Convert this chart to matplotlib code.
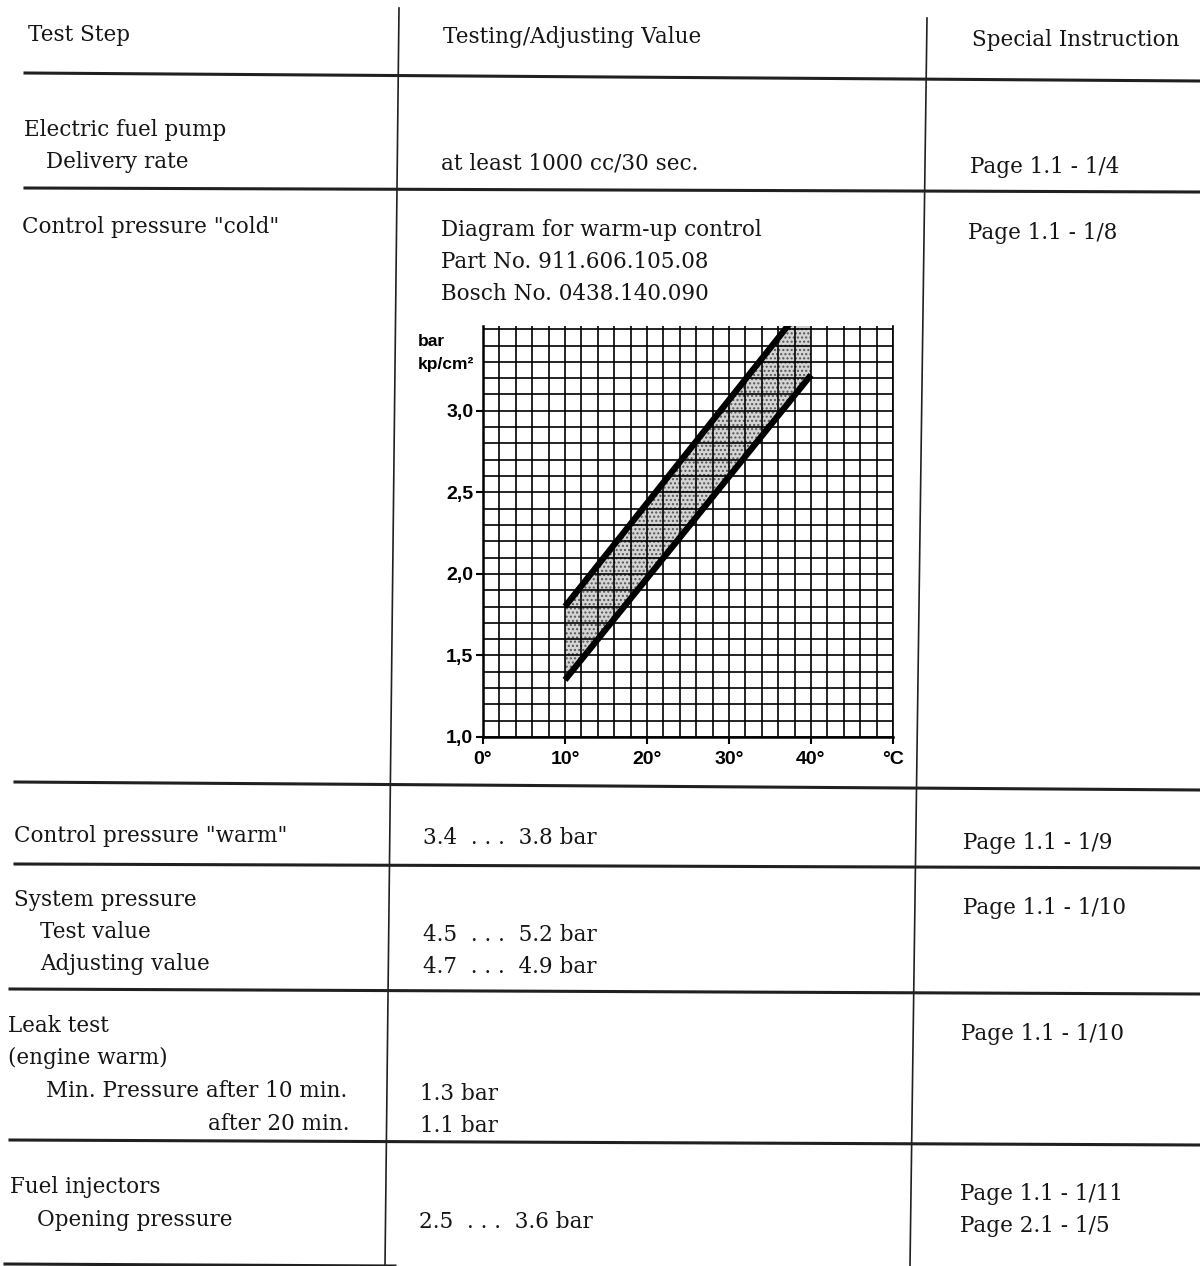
import matplotlib.pyplot as plt
import numpy as np
from matplotlib.lines import Line2D

# --- Table content
header = ["Test Step", "Testing/Adjusting Value", "Special Instruction"]

step_text = ["Electric fuel pump", "Delivery rate",
             'Control pressure "cold"',
             'Control pressure "warm"',
             "System pressure", "Test value", "Adjusting value",
             "Leak test", "(engine warm)", "Min. Pressure after 10 min.", "after 20 min.",
             "Fuel injectors", "Opening pressure"]
value_text = ["at least 1000 cc/30 sec.",
              "Diagram for warm-up control", "Part No. 911.606.105.08", "Bosch No. 0438.140.090",
              "3.4  . . .  3.8 bar",
              "4.5  . . .  5.2 bar", "4.7  . . .  4.9 bar",
              "1.3 bar", "1.1 bar",
              "2.5  . . .  3.6 bar"]
instr_text = ["Page 1.1 - 1/4", "Page 1.1 - 1/8", "Page 1.1 - 1/9", "Page 1.1 - 1/10",
              "Page 1.1 - 1/10", "Page 1.1 - 1/11", "Page 2.1 - 1/5"]

# --- Warm-up control diagram (temperature in degC, pressure in bar)
band_temp = [10, 40]
band_upper = [1.80, 3.70]
band_lower = [1.35, 3.22]
x_ticks = [0, 10, 20, 30, 40, 50]
x_labels = ["0°", "10°", "20°", "30°", "40°", "°C"]
y_ticks = [1.0, 1.5, 2.0, 2.5, 3.0]
y_labels = ["1,0", "1,5", "2,0", "2,5", "3,0"]

# --- Layout (pixels on the 1200x1266 page)
step_pos = [(24, 130), (46, 162), (22, 227), (14, 836), (14, 900), (40, 932), (40, 964),
            (8, 1026), (8, 1058), (46, 1091), (349, 1124), (10, 1187), (37, 1220)]
value_pos = [(441, 164), (441, 230), (441, 262), (441, 294), (423, 838),
             (423, 935), (423, 967), (420, 1094), (420, 1126), (419, 1222)]
instr_pos = [(970, 167), (968, 233), (963, 843), (963, 908), (961, 1034), (960, 1194), (960, 1226)]
header_pos = [(28, 35), (443, 37), (972, 40)]
h_rules = [(25, 73, 1200, 81), (25, 188, 1200, 192), (15, 782, 1200, 790), (15, 864, 1200, 868),
           (10, 989, 1200, 994), (10, 1140, 1200, 1145), (5, 1264, 395, 1266)]
v_rules = [(399, 8, 385, 1266), (927, 18, 910, 1266)]

serif = "DejaVu Serif"
fs = 15.5
ink = "#151515"

fig = plt.figure(figsize=(12, 12.66), dpi=100)
page = fig.add_axes([0, 0, 1, 1])
page.set_xlim(0, 1200)
page.set_ylim(1266, 0)
page.axis("off")

for x0, y0, x1, y1 in h_rules:
    page.add_line(Line2D([x0, x1], [y0, y1], color="#202020", lw=2.2))
for x0, y0, x1, y1 in v_rules:
    page.add_line(Line2D([x0, x1], [y0, y1], color="#202020", lw=1.2))

for t, (x, y) in zip(header, header_pos):
    page.text(x, y, t, family=serif, fontsize=fs, color=ink, va="center")
for t, (x, y) in zip(step_text, step_pos):
    ha = "right" if t == "after 20 min." else "left"
    page.text(x, y, t, family=serif, fontsize=fs, color=ink, va="center", ha=ha)
for t, (x, y) in zip(value_text, value_pos):
    page.text(x, y, t, family=serif, fontsize=fs, color=ink, va="center")
for t, (x, y) in zip(instr_text, instr_pos):
    page.text(x, y, t, family=serif, fontsize=fs, color=ink, va="center")

# axis unit label above the y axis
page.text(418, 342, "bar", family="Liberation Sans", weight="bold", fontsize=12.5, va="center")
page.text(418, 364, "kp/cm²", family="Liberation Sans", weight="bold", fontsize=12.5, va="center")

# --- Diagram
ax = fig.add_axes([483 / 1200, 1 - 737 / 1266, 410 / 1200, 411 / 1266])
ax.set_xlim(0, 50)
ax.set_ylim(1.0, 3.52)
ax.set_xticks(np.arange(0, 51, 2), minor=True)
ax.set_yticks(np.arange(1.0, 3.51, 0.1), minor=True)
ax.grid(which="both", color="black", lw=1.2)
ax.tick_params(which="minor", length=0)
ax.set_xticks(x_ticks)
ax.set_xticklabels(x_labels)
ax.set_yticks(y_ticks)
ax.set_yticklabels(y_labels)
ax.tick_params(which="major", length=5, width=1.5, pad=2, labelsize=14)
ax.tick_params(axis="x", pad=5)
for lab in ax.get_xticklabels() + ax.get_yticklabels():
    lab.set_family("Liberation Sans")
    lab.set_weight("bold")
ax.spines["top"].set_visible(False)
for s in ["left", "bottom"]:
    ax.spines[s].set_linewidth(1.8)
ax.spines["right"].set_linewidth(1.2)

# stippled tolerance band
plt.rcParams["hatch.linewidth"] = 1.0
ax.fill_between(band_temp, band_lower, band_upper, facecolor="#d4d4d4",
                edgecolor="#555555", hatch="....", lw=0, zorder=1.5)
ax.plot(band_temp, band_upper, color="black", lw=4.5, solid_capstyle="butt", zorder=3)
ax.plot(band_temp, band_lower, color="black", lw=4.5, solid_capstyle="butt", zorder=3)

fig.savefig("out.png", dpi=100)
